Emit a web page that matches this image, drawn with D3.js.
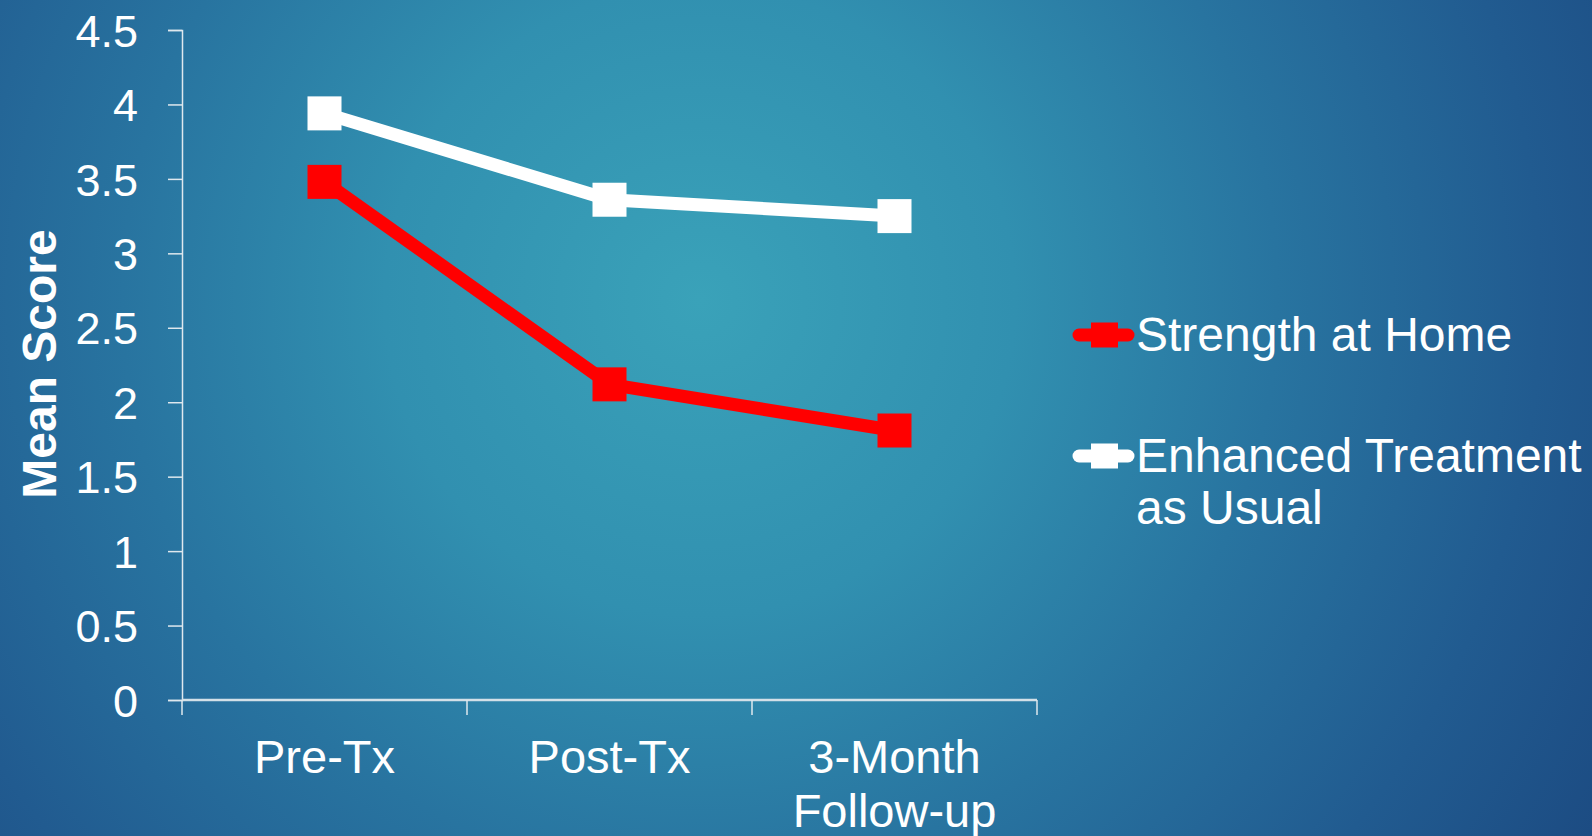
<!DOCTYPE html>
<html>
<head>
<meta charset="utf-8">
<script src="https://cdn.jsdelivr.net/npm/d3@7"></script>
<style>
  html, body { margin: 0; padding: 0; overflow: hidden; }
  svg { display: block; font-family: "Liberation Sans", Arial, sans-serif; }
</style>
</head>
<body>
<script>
const categories = ["Pre-Tx", "Post-Tx", "3-Month\nFollow-up"];
const seriesNames = ["Strength at Home", "Enhanced Treatment\nas Usual"];
const strengthAtHome = [3.48, 2.12, 1.81];
const enhancedTAU = [3.94, 3.36, 3.25];
const seriesColors = ["#ff0000", "#ffffff"];
const yTicks = [0, 0.5, 1, 1.5, 2, 2.5, 3, 3.5, 4, 4.5];

const W = 1592, H = 836;
const svg = d3.select("body").append("svg").attr("width", W).attr("height", H);

// background
const defs = svg.append("defs");
const grad = defs.append("radialGradient").attr("id", "bg")
  .attr("gradientUnits", "userSpaceOnUse")
  .attr("cx", 700).attr("cy", 300).attr("r", 1050);
[[0, "#3aa2b9"], [0.3, "#3190b0"], [0.55, "#2874a0"], [0.8, "#215b90"], [1, "#1c4b82"]]
  .forEach(([o, c]) => grad.append("stop").attr("offset", o).attr("stop-color", c));
svg.append("rect").attr("width", W).attr("height", H).attr("fill", "url(#bg)");

const x = d3.scaleBand().domain(categories).range([182, 1037]).padding(0);
const y = d3.scaleLinear().domain([0, 4.5]).range([700, 30]);

// y axis
const yAxis = svg.append("g").attr("transform", "translate(182,0)")
  .call(d3.axisLeft(y).tickValues(yTicks).tickSize(14).tickPadding(30)
    .tickFormat(d => String(d)));
yAxis.select(".domain").attr("stroke", "#dfe8ee").attr("stroke-width", 1.5);
yAxis.selectAll(".tick line").attr("stroke", "#dfe8ee").attr("stroke-width", 1.5);
yAxis.selectAll(".tick text").attr("fill", "#ffffff").attr("font-size", 45)
  .attr("font-family", "Liberation Sans, Arial, sans-serif").attr("dy", "0.36em");

// x axis line and edge ticks
const xg = svg.append("g");
xg.append("line").attr("x1", x.range()[0]).attr("x2", x.range()[1])
  .attr("y1", y(0)).attr("y2", y(0)).attr("stroke", "#d3e0e8").attr("stroke-width", 2.5);
const edges = categories.map(c => x(c)).concat([x(categories[categories.length - 1]) + x.bandwidth()]);
xg.selectAll("line.edge").data(edges).join("line").attr("class", "edge")
  .attr("x1", d => d).attr("x2", d => d).attr("y1", y(0)).attr("y2", y(0) + 15)
  .attr("stroke", "#dfe8ee").attr("stroke-width", 1.5);
xg.selectAll("text.cat").data(categories).join("text").attr("class", "cat")
  .attr("x", d => x(d) + x.bandwidth() / 2).attr("y", 773)
  .attr("text-anchor", "middle").attr("fill", "#ffffff").attr("font-size", 47)
  .each(function (d) {
    const lines = d.split("\n");
    d3.select(this).selectAll("tspan").data(lines).join("tspan")
      .attr("x", x(d) + x.bandwidth() / 2).attr("dy", (l, i) => i === 0 ? 0 : 54).text(l => l);
  });

// y title
svg.append("text").attr("transform", "translate(56,364) rotate(-90)")
  .attr("text-anchor", "middle").attr("fill", "#ffffff").attr("font-size", 48)
  .attr("font-weight", "bold").text("Mean Score");

// series
const series = [strengthAtHome, enhancedTAU];
const cx = d => x(d) + x.bandwidth() / 2;
const line = d3.line().x(d => cx(d.c)).y(d => y(d.v));
const sq = 34;
[1, 0].forEach(si => {
  const pts = categories.map((c, i) => ({ c, v: series[si][i] }));
  const g = svg.append("g");
  g.append("path").attr("d", line(pts)).attr("fill", "none")
    .attr("stroke", seriesColors[si]).attr("stroke-width", 13).attr("stroke-linejoin", "miter");
  g.selectAll("rect").data(pts).join("rect")
    .attr("x", d => cx(d.c) - sq / 2).attr("y", d => y(d.v) - sq / 2)
    .attr("width", sq).attr("height", sq).attr("fill", seriesColors[si]);
});

// legend
const legendY = [335, 456];
const lg = svg.append("g");
seriesNames.forEach((name, i) => {
  const g = lg.append("g").attr("transform", `translate(0,${legendY[i]})`);
  g.append("line").attr("x1", 1079).attr("x2", 1128).attr("y1", 0).attr("y2", 0)
    .attr("stroke", seriesColors[i]).attr("stroke-width", 13).attr("stroke-linecap", "round");
  g.append("rect").attr("x", 1091).attr("y", -12.5).attr("width", 27).attr("height", 25)
    .attr("fill", seriesColors[i]);
  const t = g.append("text").attr("x", 1136).attr("y", 16).attr("fill", "#ffffff").attr("font-size", 48);
  name.split("\n").forEach((l, j) => {
    t.append("tspan").attr("x", 1136).attr("dy", j === 0 ? 0 : 52).text(l);
  });
});
</script>
</body>
</html>
